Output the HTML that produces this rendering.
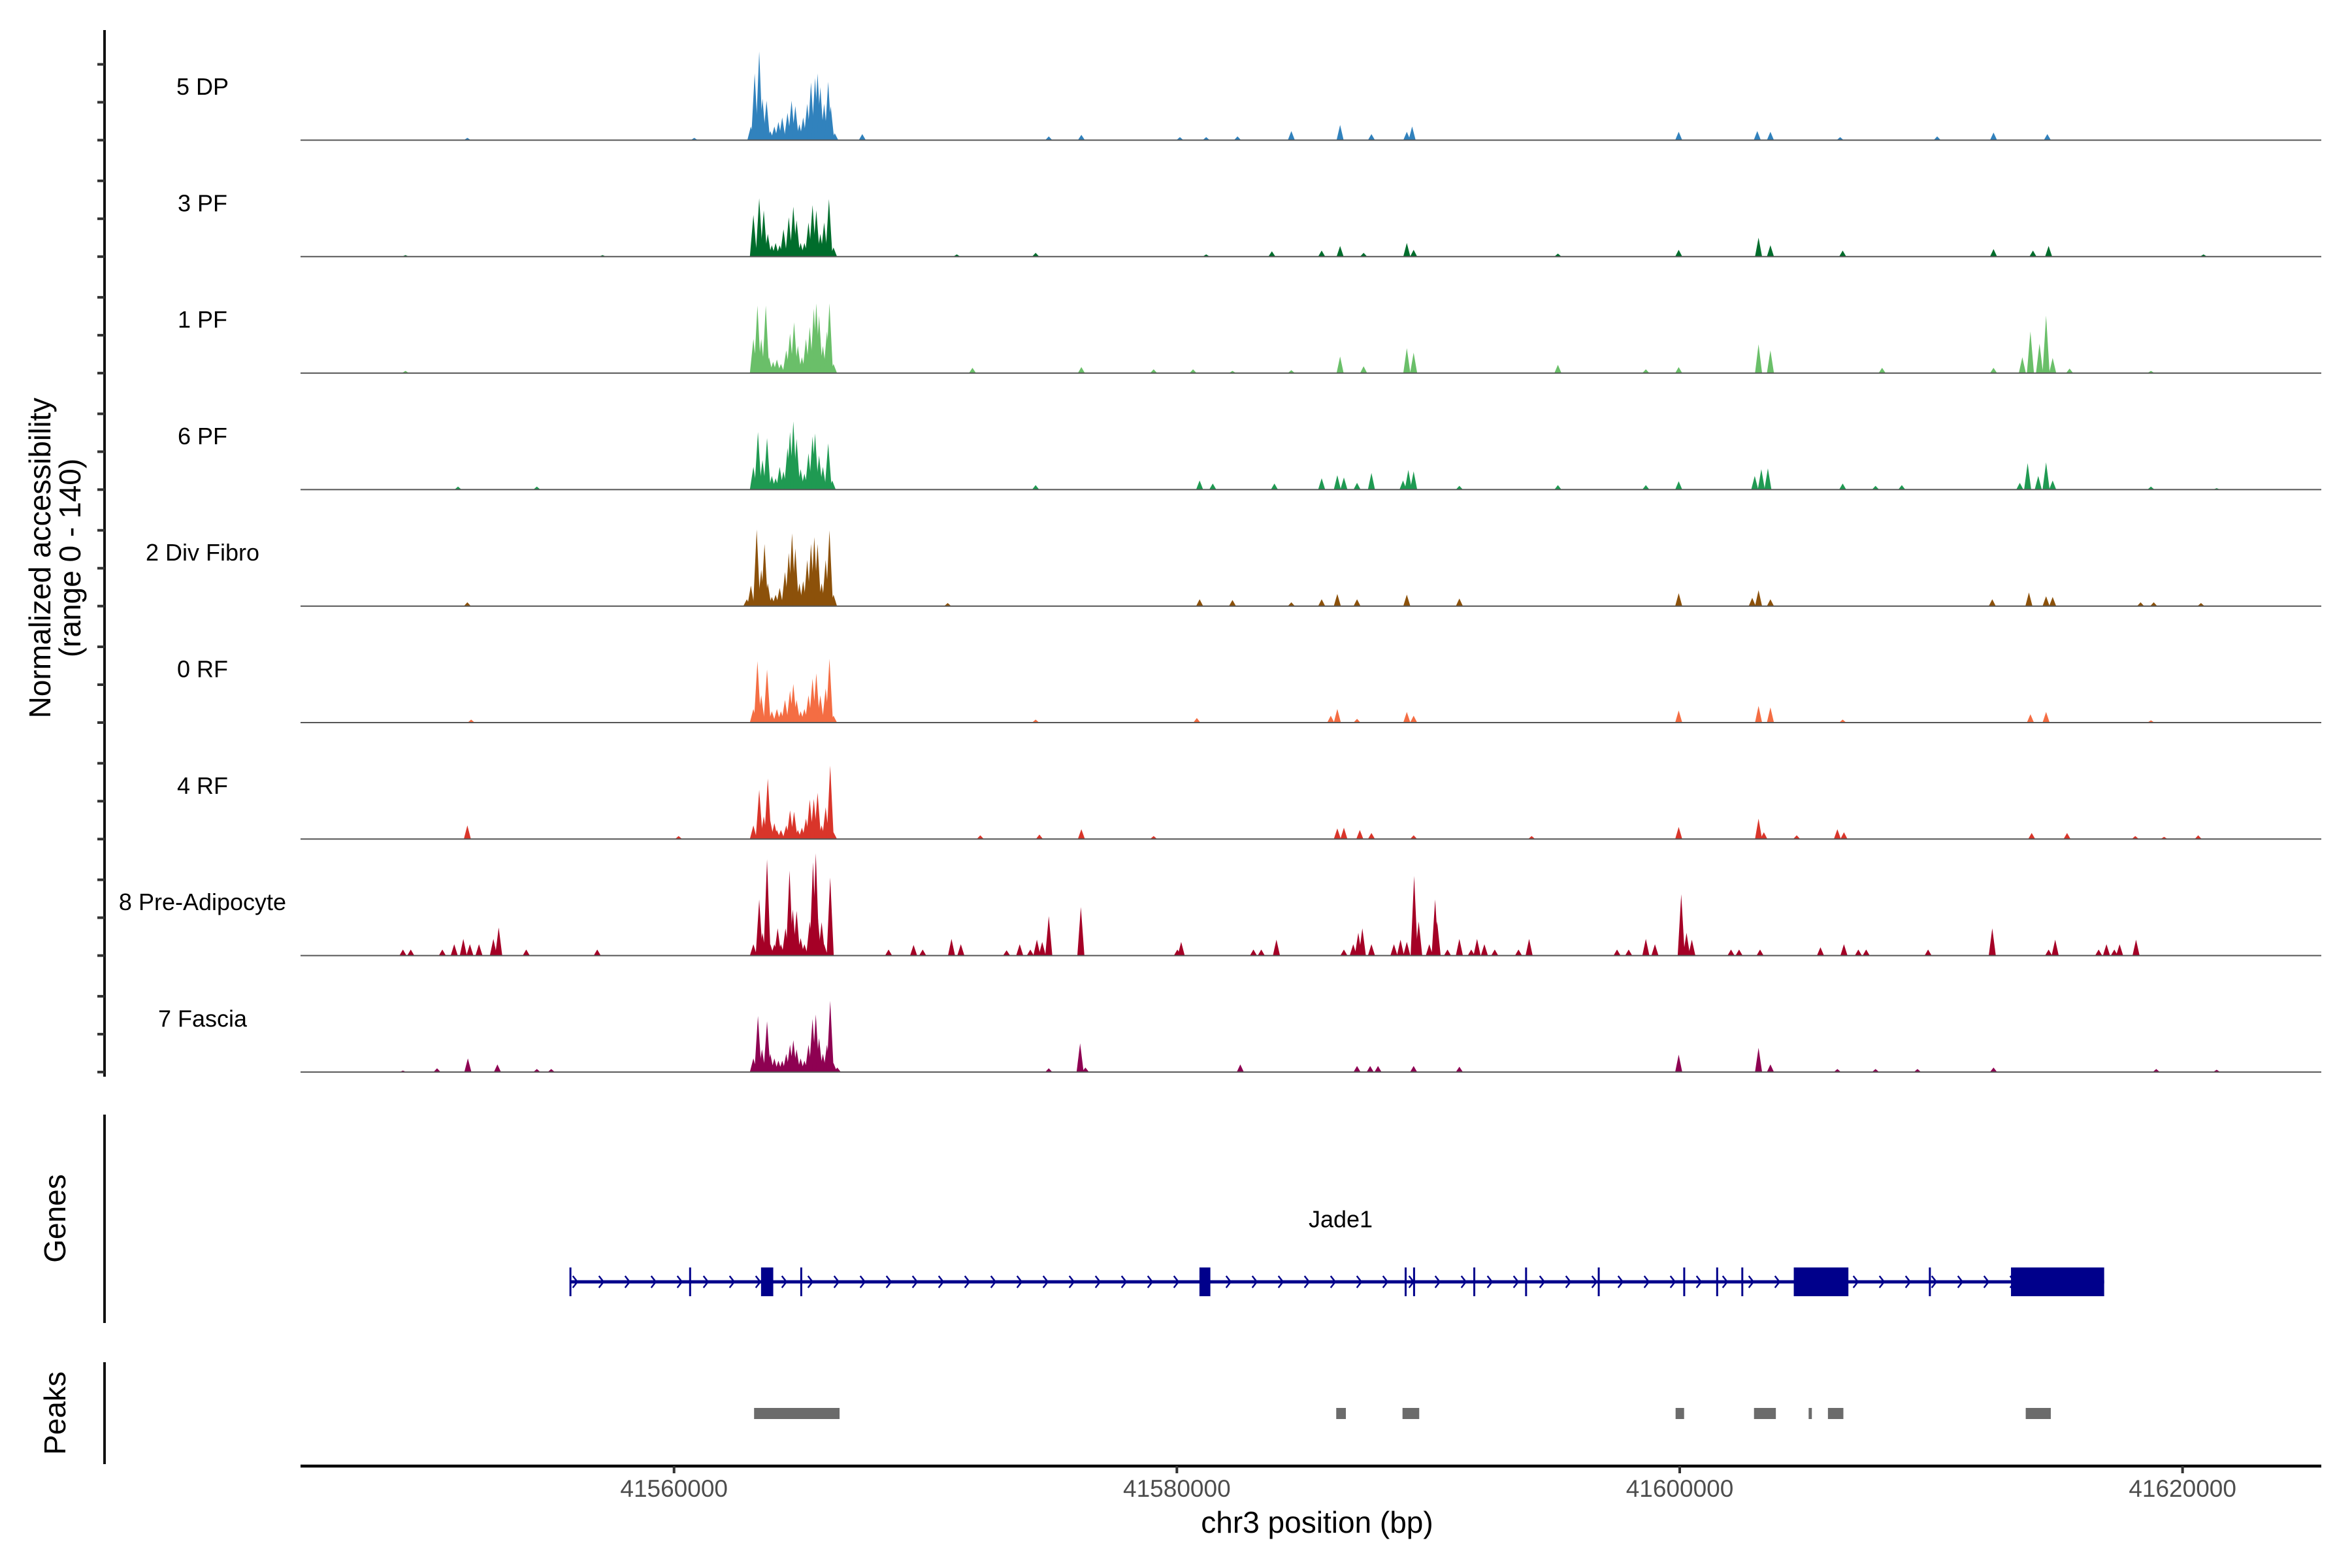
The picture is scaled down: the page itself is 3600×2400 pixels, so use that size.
<!DOCTYPE html>
<html><head><meta charset="utf-8"><title>Coverage plot Jade1</title>
<style>html,body{margin:0;padding:0;background:#fff}svg{display:block}text{font-family:"Liberation Sans",Arial,sans-serif}</style>
</head><body>
<svg id="chart" xmlns="http://www.w3.org/2000/svg" width="3600" height="2400" viewBox="0 0 3600 2400">
<rect width="3600" height="2400" fill="#fff"/>
<g id="tracks"></g>
<g id="yaxis"></g>
<text transform="translate(65,854) rotate(-90)" text-anchor="middle" dominant-baseline="middle" font-size="46">Normalized accessibility</text>
<text transform="translate(111,854) rotate(-90)" text-anchor="middle" dominant-baseline="middle" font-size="46">(range 0 - 140)</text>
<g id="genes"></g>
<line x1="160" y1="1706" x2="160" y2="2025" stroke="#111" stroke-width="4"/>
<text transform="translate(88,1865) rotate(-90)" text-anchor="middle" dominant-baseline="middle" font-size="46">Genes</text>
<g id="peaks"></g>
<line x1="160" y1="2085" x2="160" y2="2241" stroke="#111" stroke-width="4"/>
<text transform="translate(88,2163) rotate(-90)" text-anchor="middle" dominant-baseline="middle" font-size="46">Peaks</text>
<g id="xaxis"></g>
<text x="2016" y="2334" text-anchor="middle" dominant-baseline="middle" font-size="46">chr3 position (bp)</text>
</svg>
<script>
// ---- data ----
const trackNames = ["5 DP","3 PF","1 PF","6 PF","2 Div Fibro","0 RF","4 RF","8 Pre-Adipocyte","7 Fascia"];
const trackColors = ["#3182bd","#006d2c","#6abf69","#1f9a52","#8c510a","#f46d43","#d9352a","#a50026","#8e0152"];
const regionOriginBp = 41544624; // positions below are offsets from this origin
const bpPerUnit = 1005;          // offset units (~kb)
const dpPosKb = [18.34,18.49,18.67,18.80,18.96,19.11,19.27,19.43,19.58,19.79,19.95,20.10,20.26,20.41,20.57,20.72,20.88,20.98,21.09,21.24,21.40,21.50,21.66,22.75,7.12,16.10,30.13,31.42,35.32,36.36,37.60,39.73,41.66,42.90,44.30,44.51,55.06,58.17,58.69,61.45,65.29,67.52,69.65];
const dpVal   = [18,88,117,55,52,12,18,24,30,36,52,45,21,30,48,76,82,88,70,48,77,45,9,8,3,3,5,7,4,4,5,12,20,8,11,18,11,12,11,4,5,10,8];
const pf3PosKb = [18.44,18.67,18.85,19.01,19.17,19.32,19.48,19.63,19.84,20.02,20.15,20.31,20.46,20.62,20.78,20.93,21.09,21.24,21.43,21.61,4.67,12.47,26.49,29.61,36.36,38.96,40.93,41.66,42.59,44.30,44.57,50.28,55.06,58.22,58.69,61.55,67.52,69.08,69.70,75.83];
const pf3Val   = [55,77,61,30,15,18,15,36,52,66,48,18,18,45,68,61,30,45,76,12,2,2,3,5,3,7,8,14,5,18,9,4,9,25,15,8,10,8,14,3];
const pf1PosKb = [18.44,18.60,18.75,18.93,19.06,19.22,19.37,19.53,19.74,19.89,20.05,20.20,20.36,20.52,20.67,20.83,20.93,21.04,21.19,21.35,21.45,21.61,4.67,27.11,31.42,34.28,35.84,37.40,39.73,41.66,42.59,44.30,44.57,50.28,53.76,55.06,58.22,58.69,63.11,67.52,68.66,68.98,69.34,69.60,69.86,70.53,73.75];
const pf1Val   = [45,89,45,89,21,15,18,12,30,52,67,36,21,45,61,85,92,76,36,55,92,12,3,7,8,5,5,3,4,22,9,33,27,11,5,8,38,30,7,7,21,55,39,76,20,6,3];
const pf6PosKb = [18.44,18.62,18.80,18.98,19.17,19.32,19.48,19.63,19.79,19.89,20.02,20.15,20.31,20.46,20.62,20.78,20.88,21.04,21.19,21.40,21.56,6.75,9.87,29.61,36.10,36.62,39.06,40.93,41.55,41.81,42.33,42.90,44.15,44.36,44.57,46.38,50.28,53.76,55.06,58.07,58.33,58.59,61.55,62.85,63.89,68.56,68.87,69.29,69.60,69.86,73.75,76.35];
const pf6Val   = [30,76,39,68,18,15,30,24,55,76,90,67,27,21,48,70,74,45,30,61,12,4,4,6,12,8,8,15,19,16,9,22,12,26,24,5,6,6,11,18,27,28,8,5,6,9,35,18,36,12,4,2];
const divPosKb = [18.18,18.34,18.57,18.75,18.88,19.01,19.17,19.32,19.48,19.69,19.84,19.97,20.10,20.26,20.41,20.57,20.72,20.85,20.98,21.14,21.30,21.45,21.61,7.12,26.13,36.10,37.40,39.73,40.93,41.55,42.33,44.30,46.38,55.06,57.97,58.22,58.69,67.47,68.92,69.60,69.86,73.34,73.86,75.73];
const divVal   = [9,27,101,48,82,30,12,15,24,45,70,96,76,30,33,61,82,91,82,30,61,100,15,5,4,9,8,5,9,16,9,15,10,17,11,21,9,9,18,13,12,5,5,4];
const rf0PosKb = [18.44,18.60,18.75,18.98,19.17,19.37,19.53,19.69,19.89,20.02,20.15,20.31,20.46,20.62,20.78,20.93,21.09,21.30,21.45,21.61,7.27,29.61,35.99,41.29,41.55,42.33,44.30,44.57,55.06,58.22,58.69,61.55,68.98,69.60,73.75];
const rf0Val   = [18,81,36,70,15,18,15,30,42,51,30,15,18,36,58,65,36,45,84,9,4,4,6,9,18,5,14,9,16,22,20,4,11,14,3];
const rf4PosKb = [7.12,15.48,18.44,18.67,18.85,19.01,19.11,19.27,19.37,19.53,19.74,19.89,20.05,20.20,20.36,20.52,20.67,20.83,20.98,21.14,21.30,21.48,21.61,27.42,29.76,31.42,34.28,41.55,41.81,42.44,42.90,44.57,49.24,55.06,58.22,58.43,59.73,61.34,61.60,69.03,70.43,73.13,74.27,75.62];
const rf4Val   = [18,4,18,65,30,80,24,21,12,12,18,38,36,12,15,27,52,53,61,18,42,97,9,5,6,13,4,14,15,12,8,5,4,16,27,9,5,13,9,8,8,4,3,5];
const preAdPosKb = [18.44,18.67,18.80,18.98,19.11,19.27,19.40,19.53,19.71,19.87,20.00,20.15,20.31,20.46,20.67,20.80,20.91,20.98,21.14,21.24,21.48,4.57,4.88,6.13,6.60,6.96,7.22,7.58,8.15,8.36,9.45,12.26,23.79,24.78,25.14,26.28,26.65,28.46,28.98,29.40,29.66,29.87,30.13,31.40,35.22,35.37,38.23,38.54,39.14,41.81,42.18,42.38,42.54,42.90,43.79,44.05,44.30,44.59,44.77,45.19,45.42,45.50,45.91,46.38,46.85,47.08,47.37,47.78,48.72,49.14,52.62,53.08,53.76,54.12,55.16,55.37,55.58,57.13,57.45,58.28,60.67,61.60,62.17,62.48,64.93,67.47,69.70,69.96,71.68,71.99,72.30,72.51,73.16];
const preAdVal   = [15,74,30,127,15,15,36,15,36,112,61,59,23,15,45,123,135,55,44,15,103,8,8,8,15,22,15,15,22,37,8,8,8,14,8,22,15,7,15,8,21,18,52,64,8,18,8,8,21,8,15,30,36,15,15,21,18,105,45,15,74,45,8,22,8,22,15,8,8,22,8,8,22,15,81,30,21,8,8,8,11,15,8,8,8,36,8,21,8,15,8,15,21];
const fasPosKb = [4.57,5.92,7.14,8.31,9.87,10.44,18.44,18.62,18.78,18.98,19.11,19.27,19.43,19.58,19.74,19.89,20.02,20.15,20.31,20.46,20.62,20.78,20.91,21.04,21.19,21.35,21.48,21.61,21.76,30.13,31.37,31.58,37.71,42.33,42.85,43.16,44.57,46.38,55.06,58.22,58.69,61.34,62.85,64.51,67.52,73.96,76.35];
const fasVal   = [2,5,18,10,4,4,18,74,30,67,24,18,15,15,24,36,42,30,18,15,36,70,76,45,24,36,94,12,6,5,38,6,10,8,8,8,8,7,23,32,10,4,4,4,6,4,3];
const trackPos = [dpPosKb,pf3PosKb,pf1PosKb,pf6PosKb,divPosKb,rf0PosKb,rf4PosKb,preAdPosKb,fasPosKb];
const trackVal = [dpVal,pf3Val,pf1Val,pf6Val,divVal,rf0Val,rf4Val,preAdVal,fasVal];
const yTicks = [0,50,100];
const xTicks = [41560000,41580000,41600000,41620000];
const xTickLabels = ["41560000","41580000","41600000","41620000"];
const geneName = "Jade1";
const geneStartBp = 41555869, geneEndBp = 41616882;
const exonStart = [41555840,41560600,41563460,41565020,41580897,41589060,41589395,41591790,41593850,41596740,41600140,41601450,41602450,41604536,41609910,41613176];
const exonEnd   = [41555900,41560650,41563946,41565080,41581332,41589100,41589430,41591840,41593920,41596810,41600210,41601500,41602500,41606709,41609960,41616882];
const peakStart = [41563184,41586338,41588974,41599836,41602955,41605128,41605895,41613762];
const peakEnd   = [41566584,41586721,41589639,41600174,41603824,41605256,41606509,41614759];

// ---- scales ----
const NS = "http://www.w3.org/2000/svg";
const X0 = 460, X1 = 3553, D0 = 41545144, D1 = 41625518;
function xScale(bp){ return X0 + (bp - D0) * (X1 - X0) / (D1 - D0); }
const base0 = 214.5, trackStep = 178.3, pxPerUnit = 1.16;
function baseY(i){ return base0 + i * trackStep; }
function yScale(i, v){ return baseY(i) - v * pxPerUnit; }
function mk(tag, attrs, parent){ const e=document.createElementNS(NS,tag); for(const k in attrs) e.setAttribute(k,attrs[k]); parent.appendChild(e); return e; }

const gT = document.getElementById('tracks');
const halfUnits = 0.14;
trackNames.forEach((name,i)=>{
  const g = mk('g',{},gT);
  
  
  const ps = trackPos[i], vs = trackVal[i];
  ps.forEach((p,j)=>{
    const bp = regionOriginBp + p*bpPerUnit, hw = halfUnits*bpPerUnit;
    const b = baseY(i);
    const poly = mk('polygon',{points:`${xScale(bp-hw)},${b} ${xScale(bp)},${yScale(i,vs[j])} ${xScale(bp+hw)},${b}`, fill:trackColors[i]},g);
    
    
  });
  const ln = mk('line',{x1:X0,x2:X1,y1:baseY(i),y2:baseY(i),stroke:'#555','stroke-width':2},g);
  
  
  const t = mk('text',{x:310,y:baseY(i)-79,'text-anchor':'middle','dominant-baseline':'middle','font-size':36},g);
  t.textContent = name;
  
  
});

// y axis
const gY = document.getElementById('yaxis');
const ax = mk('line',{x1:160,x2:160,y1:46,y2:1648,stroke:'#111','stroke-width':4},gY);


trackNames.forEach((n,i)=>{
  yTicks.forEach(v=>{
    const tk = mk('line',{x1:149,x2:160,y1:yScale(i,v),y2:yScale(i,v),stroke:'#333','stroke-width':4},gY);
    
    
  });
});

// genes
const gG = document.getElementById('genes');
const gy = 1962;
const gl = mk('line',{x1:xScale(geneStartBp),x2:xScale(geneEndBp),y1:gy,y2:gy,stroke:'#00008b','stroke-width':5},gG);


for(let x=xScale(geneStartBp)+8; x<xScale(geneEndBp)-10; x+=40){
  const c = mk('path',{d:`M${x-4},${gy-9} L${x+3},${gy} L${x-4},${gy+9}`,fill:'none',stroke:'#00008b','stroke-width':2.5},gG);
  
  
}
exonStart.forEach((s,k)=>{
  const x1=xScale(s), x2=xScale(exonEnd[k]);
  const r = mk('rect',{x:x1,y:gy-22,width:Math.max(3,x2-x1),height:44,fill:'#00008b'},gG);
  
  
});
const gt = mk('text',{x:2052,y:1869,'text-anchor':'middle','dominant-baseline':'middle','font-size':36},gG);
gt.textContent = geneName;



// peaks
const gP = document.getElementById('peaks');
peakStart.forEach((s,k)=>{
  const x1=xScale(s), x2=xScale(peakEnd[k]);
  const r = mk('rect',{x:x1,y:2155,width:Math.max(4,x2-x1),height:17,fill:'#6b6b6b'},gP);
  
  
});

// x axis
const gX = document.getElementById('xaxis');
const xl = mk('line',{x1:X0,x2:X1,y1:2244,y2:2244,stroke:'#000','stroke-width':4.5},gX);


xTicks.forEach((v,k)=>{
  const tk = mk('line',{x1:xScale(v),x2:xScale(v),y1:2244,y2:2255,stroke:'#333','stroke-width':4},gX);
  
  
  const t = mk('text',{x:xScale(v),y:2281,'text-anchor':'middle','dominant-baseline':'middle','font-size':37,fill:'#4d4d4d'},gX);
  t.textContent = xTickLabels[k];
  
  
});
</script>
</body></html>
